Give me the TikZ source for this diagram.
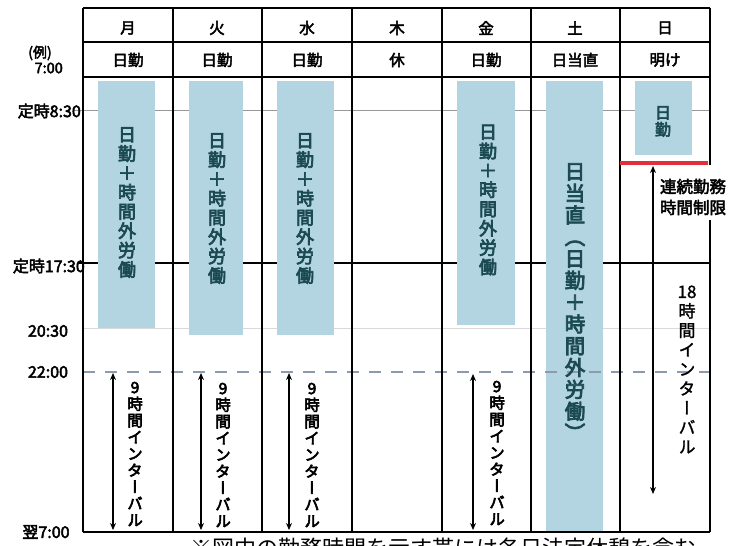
\documentclass[tikz,border=0pt]{standalone}
\usepackage{fontspec}
\setmainfont{Noto Sans CJK JP}
\newfontfamily\jb[FakeBold=4,RawFeature={+vert}]{Noto Sans CJK JP}
\newfontfamily\jh[FakeBold=3]{Noto Sans CJK JP}
\newfontfamily\jn[FakeBold=1.5,RawFeature={+vert}]{Noto Sans CJK JP}
\usetikzlibrary{arrows.meta}
\definecolor{barblue}{HTML}{B3D5E1}
\definecolor{bartext}{HTML}{1C4A52}
\definecolor{redline}{HTML}{E0303A}
\definecolor{dashcol}{HTML}{8C9AAE}
\tikzset{
  gridline/.style={line width=1.8pt, black},
  thinline/.style={line width=1pt, gray!80},
  faintline/.style={line width=0.8pt, gray!30},
  dashline/.style={line width=1.4pt, dashcol, dash pattern=on 12pt off 10pt},
  barbox/.style={fill=barblue, draw=none},
  hdr/.style={font={\jh\fontsize{15.5}{17}\selectfont}, inner sep=0pt},
  timelbl/.style={font={\jh\fontsize{16}{18}\selectfont}, inner sep=0pt},
  bartxt/.style={font={\jb\fontsize{18}{19.3}\selectfont\lineskiplimit=-50pt}, text=bartext, align=center, inner sep=0pt},
  sattxt/.style={font={\jb\fontsize{20.5}{21.8}\selectfont\lineskiplimit=-50pt}, text=bartext, align=center, inner sep=0pt},
  suntxt/.style={font={\jb\fontsize{16}{17}\selectfont\lineskiplimit=-50pt}, text=bartext, align=center, inner sep=0pt},
  ivtxt/.style={font={\jb\fontsize{15.5}{16.6}\selectfont\lineskiplimit=-50pt}, align=center, inner sep=0pt},
  ivarrow/.style={line width=1.6pt, {Stealth[length=7pt,width=6pt]}-{Stealth[length=7pt,width=6pt]}},
}
\begin{document}
\begin{tikzpicture}[x=1pt,y=-1pt]
\clip (0,0) rectangle (739,546);
\fill[white] (0,0) rectangle (739,546);
% thin time lines
\draw[thinline] (74,110) -- (710,110);
\draw[faintline] (83,328) -- (710,328);
\draw[gridline] (78,263) -- (710,263);
% bars
\fill[barbox] (98,81) rectangle (155,328);
\fill[barbox] (189,81) rectangle (243,335);
\fill[barbox] (277,81) rectangle (334,335);
\fill[barbox] (457,81) rectangle (515,325);
\fill[barbox] (546,81) rectangle (603,532);
\fill[barbox] (635,81) rectangle (692,155);
% dashed 22:00
\draw[dashline] (83,372) -- (710,372);
% grid frame
\draw[gridline] (83,8) -- (710,8);
\draw[gridline] (83,42) -- (710,42);
\draw[gridline] (83,77) -- (710,77);
\draw[gridline] (83,532) -- (710,532);
\draw[gridline] (83,8) -- (83,532);
\foreach \x in {173,262,352,442,531,620} \draw[gridline] (\x,8) -- (\x,532);
\draw[gridline] (710,8) -- (710,165);
\draw[gridline] (710,220) -- (710,532);
% red limit line
\draw[line width=4pt, redline] (620,163) -- (708,163);
% headers
\node[hdr] (d1) at (128,28) {月};
\node[hdr] (d2) at (217,28) {火};
\node[hdr] (d3) at (307,28) {水};
\node[hdr] (d4) at (397,28) {木};
\node[hdr] (d5) at (486,28) {金};
\node[hdr] (d6) at (575,28) {土};
\node[hdr] (d7) at (665,28) {日};
\node[hdr] (s1) at (128,60) {日勤};
\node[hdr] (s2) at (217,60) {日勤};
\node[hdr] (s3) at (307,60) {日勤};
\node[hdr] (s4) at (397,60) {休};
\node[hdr] (s5) at (486,60) {日勤};
\node[hdr] (s6) at (575,60) {日当直};
\node[hdr] (s7) at (665,60) {明け};
% left time labels
\node[timelbl, font={\jh\fontsize{14}{16}\selectfont}] (ex) at (40,53) {(例)};
\node[timelbl, font={\jh\fontsize{14.5}{16}\selectfont}, anchor=east] (t700) at (63,68) {7:00};
\node[timelbl, anchor=east] (t830) at (81,111) {定時8:30};
\node[timelbl, anchor=east] (t1730) at (85,266) {定時17:30};
\node[timelbl] (t2030) at (48,331) {20:30};
\node[timelbl] (t2200) at (48,372) {22:00};
\node[timelbl] (t0700) at (46,532) {翌7:00};
% bar texts
\node[bartxt] (b1) at (127,202.5) {日\\勤\\＋\\時\\間\\外\\労\\働};
\node[bartxt] (b2) at (217,208.5) {日\\勤\\＋\\時\\間\\外\\労\\働};
\node[bartxt] (b3) at (305,208.5) {日\\勤\\＋\\時\\間\\外\\労\\働};
\node[bartxt] (b5) at (488,200) {日\\勤\\＋\\時\\間\\外\\労\\働};
\node[sattxt] (b6) at (575,302) {日\\当\\直\\（\\日\\勤\\＋\\時\\間\\外\\労\\働\\）};
\node[suntxt] (b7) at (663,121.5) {日\\勤};
% interval arrows
\coordinate (a1t) at (113,373); \coordinate (a1b) at (113,530);
\coordinate (a2t) at (201,373); \coordinate (a2b) at (201,530);
\coordinate (a3t) at (289,373); \coordinate (a3b) at (289,530);
\coordinate (a5t) at (473,374); \coordinate (a5b) at (473,530);
\coordinate (a7t) at (653,166); \coordinate (a7b) at (653,494);
\draw[ivarrow] (a1t) -- (a1b);
\draw[ivarrow] (a2t) -- (a2b);
\draw[ivarrow] (a3t) -- (a3b);
\draw[ivarrow] (a5t) -- (a5b);
\draw[ivarrow] (a7t) -- (a7b);
\node[ivtxt] (i1) at (135,454) {9\\時\\間\\イ\\ン\\タ\\ー\\バ\\ル};
\node[ivtxt] (i2) at (223,455) {9\\時\\間\\イ\\ン\\タ\\ー\\バ\\ル};
\node[ivtxt] (i3) at (312,455) {9\\時\\間\\イ\\ン\\タ\\ー\\バ\\ル};
\node[ivtxt] (i5) at (497,453) {9\\時\\間\\イ\\ン\\タ\\ー\\バ\\ル};
\node[font={\jn\fontsize{17}{19.4}\selectfont\lineskiplimit=-50pt}, align=center, inner sep=0pt] (i7) at (687,369.5) {18\\時\\間\\イ\\ン\\タ\\ー\\バ\\ル};
\node[font={\jh\fontsize{16.5}{21}\selectfont}, align=center, inner sep=0pt] (lim) at (693,197) {連続勤務\\時間制限};
% footnote (cut off at the bottom edge, as in the reference)
\node[font={\fontsize{22}{24}\selectfont}, anchor=base west, inner sep=0pt] (note) at (190,556) {※図中の勤務時間を示す帯には各日法定休憩を含む};
\end{tikzpicture}
\end{document}
